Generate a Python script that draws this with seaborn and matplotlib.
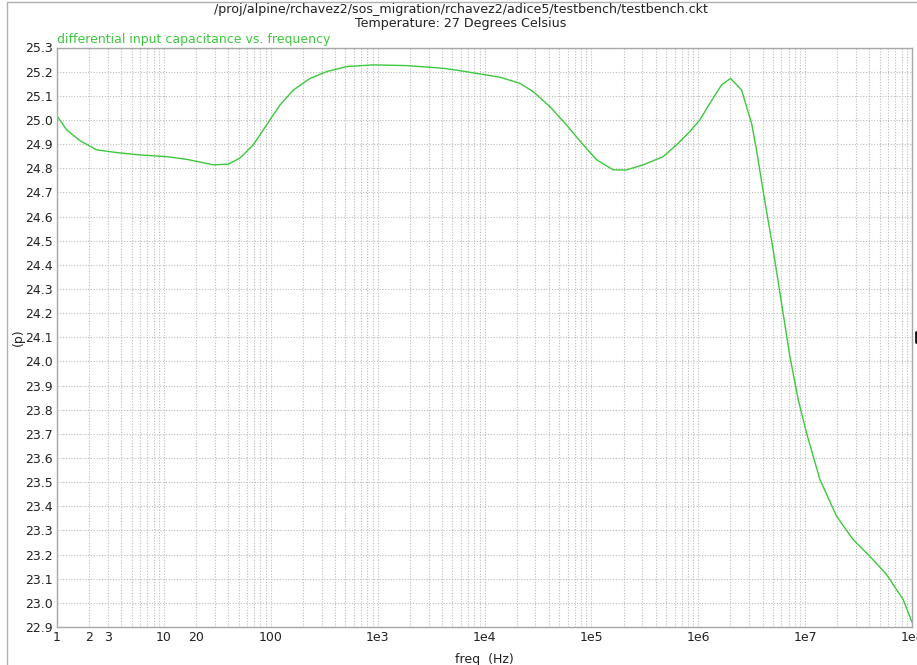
import numpy as np
import pandas as pd
import seaborn as sns
import matplotlib
matplotlib.use("Agg")
import matplotlib.pyplot as plt
from matplotlib.ticker import LogLocator, NullFormatter, FixedLocator, FixedFormatter
from matplotlib.lines import Line2D

freq = [1.0, 1.23, 1.64, 2.35, 3.61, 5.97, 10.6, 16.3, 29.0, 40.1, 51.5, 68.7, 91.6,
        122, 163, 233, 333, 513, 910, 1870, 4110, 5890, 13900, 21400, 28600, 40900,
        58600, 83800, 1.12e5, 1.60e5, 2.13e5, 3.05e5, 4.70e5, 6.27e5, 8.34e5, 1.035e6,
        1.285e6, 1.652e6, 2.004e6, 2.541e6, 3.155e6, 3.508e6, 4.046e6, 5.023e6, 6.012e6,
        7.194e6, 8.610e6, 1.030e7, 1.374e7, 1.968e7, 2.812e7, 4.027e7, 5.768e7, 8.260e7, 1.0e8]
cap = [25.017, 24.959, 24.914, 24.876, 24.865, 24.855, 24.848, 24.837, 24.814, 24.817,
       24.842, 24.897, 24.980, 25.062, 25.124, 25.172, 25.200, 25.221, 25.228, 25.225,
       25.214, 25.204, 25.177, 25.152, 25.117, 25.055, 24.979, 24.897, 24.835, 24.793,
       24.793, 24.814, 24.848, 24.897, 24.952, 25.000, 25.069, 25.145, 25.172, 25.124,
       24.986, 24.876, 24.705, 24.462, 24.242, 24.021, 23.842, 23.704, 23.511, 23.359,
       23.262, 23.193, 23.118, 23.014, 22.920]

xtick_vals = [1, 2, 3, 10, 20, 100, 1e3, 1e4, 1e5, 1e6, 1e7, 1e8]
xtick_labels = ["1", "2", "3", "10", "20", "100", "1e3", "1e4", "1e5", "1e6", "1e7", "1e8"]
ytick_vals = [round(22.9 + 0.1 * i, 1) for i in range(25)]

title_lines = ["/proj/alpine/rchavez2/sos_migration/rchavez2/adice5/testbench/testbench.ckt",
               "Temperature: 27 Degrees Celsius"]
series_name = "differential input capacitance vs. frequency"

df = pd.DataFrame({"freq": freq, "cap": cap})

sns.set_style("white")
plt.rcParams['font.family'] = ['DejaVu Sans']

green = "#3cc83c"
fig = plt.figure(figsize=(9.17, 6.65), dpi=100)
ax = fig.add_axes([57/917, 1 - 627/665, (912-57)/917, (627-47.5)/665])

sns.lineplot(data=df, x="freq", y="cap", ax=ax, color=green, linewidth=1.0, sort=False)
ax.set_xscale("log")
ax.set_xlim(1, 1e8)
ax.set_ylim(22.9, 25.3)

ax.xaxis.set_major_locator(FixedLocator(xtick_vals))
ax.xaxis.set_major_formatter(FixedFormatter(xtick_labels))
ax.xaxis.set_minor_locator(LogLocator(base=10, subs=np.arange(1, 10), numticks=100))
ax.xaxis.set_minor_formatter(NullFormatter())
ax.set_yticks(ytick_vals)
ax.set_yticklabels([f"{v:.1f}" for v in ytick_vals])

ax.tick_params(axis="both", which="both", length=0, labelsize=9, colors="#222222", pad=3)
ax.grid(True, axis="x", which="both", linestyle=(0, (1, 1.5)), color="#bcbcbc", linewidth=0.8)
ax.grid(True, axis="y", which="major", linestyle=(0, (1, 1.5)), color="#bcbcbc", linewidth=0.8)

for s in ax.spines.values():
    s.set_color("#a8a8a8")
    s.set_linewidth(1.0)
    s.set_visible(True)

ax.set_xlabel("freq  (Hz)", fontsize=9, color="#222222", labelpad=6)
ax.set_ylabel("(p)", fontsize=9, color="#222222", labelpad=0)

fig.text(0.5027, 1 - 10/665, title_lines[0], ha="center", va="center", fontsize=9.1, color="#222222")
fig.text(0.5027, 1 - 24/665, title_lines[1], ha="center", va="center", fontsize=9.1, color="#222222")
ax.text(0.0, 1.003, series_name, transform=ax.transAxes, ha="left", va="bottom",
        fontsize=9.0, color=green)

# outer frame lines
fig.add_artist(Line2D([7/917, 1], [1 - 2/665, 1 - 2/665], transform=fig.transFigure,
                      color="#b0b0b0", linewidth=1.0))
fig.add_artist(Line2D([7/917, 7/917], [0, 1 - 2/665], transform=fig.transFigure,
                      color="#b0b0b0", linewidth=1.0))
# small cursor mark at right edge
fig.add_artist(Line2D([915.5/917, 915.5/917], [1 - 342/665, 1 - 332/665], transform=fig.transFigure,
                      color="#111111", linewidth=2.0))

fig.savefig("out.png", dpi=100)
